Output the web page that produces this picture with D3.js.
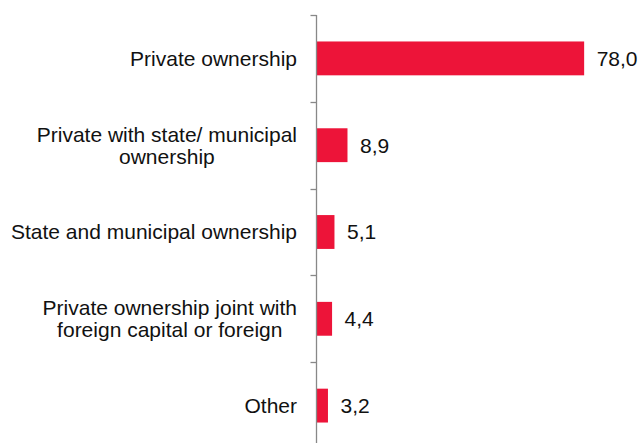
<!DOCTYPE html>
<html>
<head>
<meta charset="utf-8">
<script src="https://cdn.jsdelivr.net/npm/d3@7"></script>
<style>
  html, body { margin: 0; padding: 0; background: #fff; }
  svg { display: block; }
  text { font-family: "Liberation Sans", Arial, sans-serif; fill: #111; }
</style>
</head>
<body>
<svg id="chart" width="639" height="443"></svg>
<script>
// Ownership categories (top to bottom) and their shares, %
const categories = [
  "Private ownership",
  "Private with state/ municipal ownership",
  "State and municipal ownership",
  "Private ownership joint with foreign capital or foreign",
  "Other"
];
// Category labels split onto lines
const labelLines = [
  ["Private ownership"],
  ["Private with state/ municipal", "ownership"],
  ["State and municipal ownership"],
  ["Private ownership joint with", "foreign capital or foreign"],
  ["Other"]
];
const values = [78.0, 8.9, 5.1, 4.4, 3.2];
const valueLabels = ["78,0", "8,9", "5,1", "4,4", "3,2"];

const svg = d3.select("#chart");
const fontSize = 21;
const lineHeight = 22;
const axisX = 316.5;
const barColor = "#ED1439";
const axisColor = "#888888";

const pad = 0.61;
const y = d3.scaleBand()
  .domain(categories)
  .range([15, 449])
  .paddingInner(pad)
  .paddingOuter(pad / 2);

const x = d3.scaleLinear()
  .domain([0, 80])
  .range([axisX + 0.5, 591]);

// Bars
svg.append("g")
  .selectAll("rect")
  .data(categories)
  .join("rect")
  .attr("x", x(0))
  .attr("y", d => y(d))
  .attr("width", (d, i) => x(values[i]) - x(0))
  .attr("height", y.bandwidth())
  .attr("fill", barColor);

// Value labels
svg.append("g")
  .selectAll("text")
  .data(categories)
  .join("text")
  .attr("x", (d, i) => x(values[i]) + 12.5)
  .attr("y", d => y(d) + y.bandwidth() / 2)
  .attr("dy", "0.35em")
  .attr("font-size", fontSize)
  .text((d, i) => valueLabels[i]);

// Vertical axis with ticks on the band boundaries
const axisG = svg.append("g");
const [r0, r1] = y.range();
axisG.append("line")
  .attr("x1", axisX).attr("x2", axisX)
  .attr("y1", r0).attr("y2", r1)
  .attr("stroke", axisColor)
  .attr("stroke-width", 1.3);
const boundaries = d3.range(categories.length + 1).map(i => r0 + i * y.step());
axisG.selectAll("line.tick")
  .data(boundaries)
  .join("line")
  .attr("class", "tick")
  .attr("x1", axisX - 6).attr("x2", axisX)
  .attr("y1", d => Math.round(d) + 0.5).attr("y2", d => Math.round(d) + 0.5)
  .attr("stroke", axisColor)
  .attr("stroke-width", 1.3);

// Category labels: multi-line blocks are centred on their widest line,
// and each block is right-aligned next to the axis
const labelRight = 297;
const labelG = svg.append("g");
categories.forEach((cat, i) => {
  const lines = labelLines[i];
  const t = labelG.append("text")
    .attr("font-size", fontSize)
    .attr("text-anchor", "middle");
  const cy = y(cat) + y.bandwidth() / 2;
  const startY = cy - (lines.length - 1) * lineHeight / 2;
  lines.forEach((ln, j) => {
    t.append("tspan")
      .attr("x", 0)
      .attr("y", startY + j * lineHeight)
      .attr("dy", "0.35em")
      .text(ln);
  });
  const w = t.node().getBBox().width;
  t.attr("transform", `translate(${labelRight - w / 2},0)`);
});
</script>
</body>
</html>
